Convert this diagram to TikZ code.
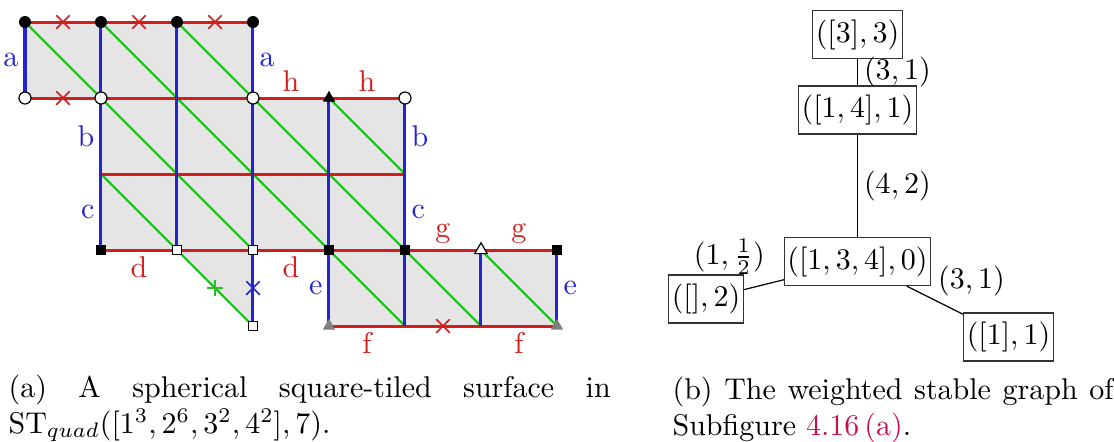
\documentclass[tikz,border=0pt]{standalone}
\usetikzlibrary{shapes.geometric,shapes.misc}
\definecolor{edgered}{RGB}{210,30,30}
\definecolor{edgeblue}{RGB}{35,35,210}
\definecolor{diaggreen}{RGB}{40,190,40}
\definecolor{linkred}{RGB}{200,16,80}
\begin{document}
\begin{tikzpicture}[
  x=0.3333pt, y=-0.3333pt,
  hedge/.style={edgered,line width=1pt},
  vedge/.style={edgeblue,line width=1pt},
  diag/.style={diaggreen,line width=0.8pt},
  rlab/.style={text=edgered,inner sep=2pt},
  blab/.style={text=edgeblue,inner sep=2pt},
  xmark/.style={cross out,draw=#1,line width=0.5pt,minimum size=4pt,inner sep=0pt},
  fulldot/.style={circle,fill=black,inner sep=0pt,minimum size=4pt},
  opendot/.style={circle,draw=black,fill=white,line width=0.4pt,inner sep=0pt,minimum size=4pt},
  fullsq/.style={rectangle,fill=black,inner sep=0pt,minimum size=3.2pt},
  opensq/.style={rectangle,draw=black,fill=white,line width=0.4pt,inner sep=0pt,minimum size=3.2pt},
  tri/.style={regular polygon,regular polygon sides=3,inner sep=0pt,minimum size=4.8pt},
  vertex/.style={draw=black!80,inner xsep=1pt,inner ysep=3pt},
  lab/.style={inner sep=2pt},
  caption/.style={anchor=north west,inner sep=0pt,align=justify}
]
\useasboundingbox (0,0) rectangle (1114,441);

% the square-tiled surface
\begin{scope}[shift={(25,22)}, x=25.33pt, y=-25.33pt]
\fill[black!10] (0,0) -- (3,0) -- (3,1) -- (5,1) -- (5,3) -- (7,3) -- (7,4)
  -- (4,4) -- (4,3) -- (3,3) -- (3,4) -- (2,3) -- (1,3) -- (1,1) -- (0,1) -- cycle;
\foreach \xa/\ya/\xb/\yb in {1/2/3/4,0/0/3/3,1/0/5/4,2/0/6/4,4/1/5/2,6/3/7/4}
  \draw[diag] (\xa,\ya) -- (\xb,\yb);
\foreach \xa/\xb/\y in {0/3/0,0/5/1,1/5/2,1/7/3,4/7/4}
  \draw[hedge] (\xa,\y) -- (\xb,\y);
\foreach \x/\ya/\yb in {0/0/1,1/0/3,2/0/3,3/0/4,4/1/4,5/1/4,6/3/4,7/3/4}
  \draw[vedge] (\x,\ya) -- (\x,\yb);
% marks on glued edges
\foreach \p [count=\i] in {(0.5,0),(1.5,0),(2.5,0),(0.5,1),(5.5,4)}
  \node[xmark=edgered] (rx\i) at \p {};
\node[xmark=edgeblue] (bx) at (3,3.5) {};
\node[xmark=diaggreen,rotate=45,minimum size=3.2pt] (gx) at (2.5,3.5) {};
% vertices
\foreach \x in {0,...,3} \node[fulldot] (top\x) at (\x,0) {};
\foreach \x in {0,1,3,5} \node[opendot] (mid\x) at (\x,1) {};
\node[tri,fill=black] (ftri) at (4,1) {};
\foreach \x in {1,4,5,7} \node[fullsq] (fsq\x) at (\x,3) {};
\foreach \p [count=\i] in {(2,3),(3,3),(3,4)} \node[opensq] (osq\i) at \p {};
\node[tri,draw=black,fill=white,line width=0.4pt] (otri) at (6,3) {};
\foreach \x in {4,7} \node[tri,fill=gray] (gtri\x) at (\x,4) {};
% edge names
\node[blab,left] (a1) at (0,.5) {a};
\node[blab,right] (a2) at (3,.5) {a};
\node[rlab,above] (h1) at (3.5,1) {h};
\node[rlab,above] (h2) at (4.5,1) {h};
\node[blab,left] (b1) at (1,1.5) {b};
\node[blab,left] (c1) at (1,2.5) {c};
\node[blab,right] (b2) at (5,1.5) {b};
\node[blab,right] (c2) at (5,2.5) {c};
\node[rlab,below] (d1) at (1.5,3) {d};
\node[rlab,below] (d2) at (3.5,3) {d};
\node[rlab,above] (g1) at (5.5,3) {g};
\node[rlab,above] (g2) at (6.5,3) {g};
\node[blab,left] (e1) at (4,3.5) {e};
\node[blab,right] (e2) at (7,3.5) {e};
\node[rlab,below] (f1) at (4.5,4) {f};
\node[rlab,below] (f2) at (6.5,4) {f};
\end{scope}

% the weighted stable graph
\node[vertex] (n3) at (857.5,34.5) {$([3],3)$};
\node[vertex] (n14) at (857.5,110) {$([1,4],1)$};
\node[vertex] (n134) at (857.5,261.5) {$([1,3,4],0)$};
\node[vertex] (nnone) at (706,299) {$([],2)$};
\node[vertex] (n1) at (1008.5,337) {$([1],1)$};
\draw (n3) -- node[lab,right] {$(3,1)$} (n14);
\draw (n14) -- node[lab,right] {$(4,2)$} (n134);
\draw (n134) -- node[lab,xshift=-11.5pt,yshift=9.2pt] {$(1,\frac{1}{2})$} (nnone);
\draw (n134) -- node[lab,xshift=12.2pt,yshift=6.3pt] {$(3,1)$} (n1);

% captions
\node[caption,text width=200.7pt] (capa) at (8,374)
  {(a) A spherical square-tiled surface in $\mathrm{ST}_{quad}([1^3,2^6,3^2,4^2],7)$.};
\node[caption,text width=147pt] (capb) at (672,376)
  {(b) The weighted stable graph of Subfigure \textcolor{linkred}{4.16\,(a)}.};
\end{tikzpicture}
\end{document}
